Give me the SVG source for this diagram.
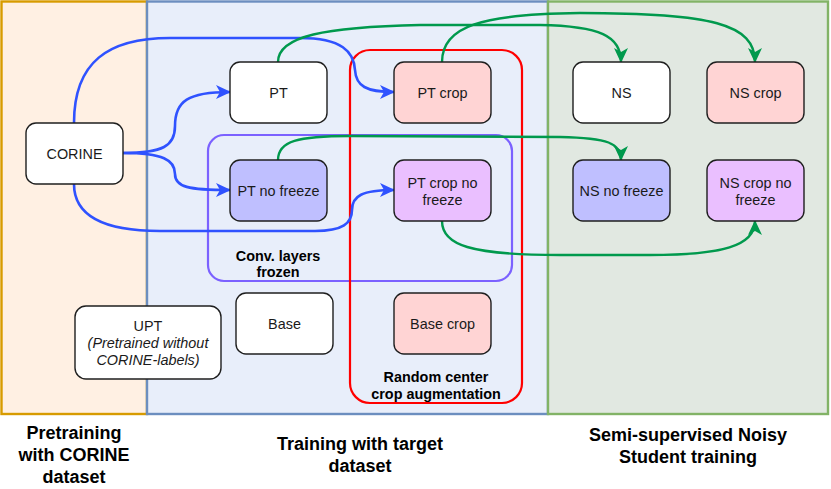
<svg xmlns="http://www.w3.org/2000/svg" width="831" height="489" viewBox="0 0 831 489">
<style>
.node rect{stroke:#1f1f1f;stroke-width:1.4}
.t{font-family:"Liberation Sans",Arial,sans-serif;font-size:14.4px;fill:#1a1a1a;text-anchor:middle}
.b{font-family:"Liberation Sans",Arial,sans-serif;font-weight:bold;fill:#000;text-anchor:middle}
.blue{fill:none;stroke:#2f52ff;stroke-width:2.6;marker-end:url(#ab)}
.green{fill:none;stroke:#00994d;stroke-width:2.4;marker-end:url(#ag)}
</style>
<defs>
<marker id="ab" markerUnits="userSpaceOnUse" markerWidth="16" markerHeight="14" refX="14" refY="7" orient="auto"><path d="M0,0 L15,7 L0,14 L4,7 Z" fill="#2f52ff"/></marker>
<marker id="ag" markerUnits="userSpaceOnUse" markerWidth="16" markerHeight="14" refX="14" refY="7" orient="auto"><path d="M0,0 L15,7 L0,14 L4,7 Z" fill="#00994d"/></marker>
</defs>
<g id="panels">
<rect x="1.5" y="1.5" width="145.5" height="412.5" fill="#fff0e3" stroke="#d79b00" stroke-width="2.4"/>
<rect x="147" y="1.5" width="401" height="412.5" fill="#e8eefa" stroke="#6c8ebf" stroke-width="2.4"/>
<rect x="548" y="1.5" width="280" height="412.5" fill="#e1e8e1" stroke="#82b366" stroke-width="2.4"/>
</g>
<g id="groups">
<rect x="208" y="135" width="304" height="146" rx="16" fill="none" stroke="#7b61ff" stroke-width="2.2"/>
<rect x="350" y="50" width="172" height="353" rx="20" fill="none" stroke="#ff0000" stroke-width="2.2"/>
<text class="b" font-size="14.4" x="278" y="261">Conv. layers</text>
<text class="b" font-size="14.4" x="278" y="277">frozen</text>
<text class="b" font-size="14.4" x="436" y="382">Random center</text>
<text class="b" font-size="14.4" x="436" y="399">crop augmentation</text>
</g>
<g id="connectors">
<path class="blue" d="M74,123 C74,62 108,38 170,38 L300,38 C342,38 354,52 355,70 C356,86 366,92 394,92"/>
<path class="blue" d="M123,153 C163,153 175,146 175,126 C175,101 188,92 230,92"/>
<path class="blue" d="M123,153 C163,153 175,160 175,174 C175,187 188,190 230,190"/>
<path class="blue" d="M74,184 C74,214 100,231 160,231 L315,231 C343,231 352,223 352,210 C352,196 362,190 394,190"/>
<path class="green" d="M278,62 C278,36 325,27 420,25 L540,25 C600,26 621,36 621,62"/>
<path class="green" d="M442,62 C442,26 482,14 580,13 C712,13 755,24 755,62"/>
<path class="green" d="M278,160 C278,141 298,136 350,136 L560,137 C608,138 621,143 621,160"/>
<path class="green" d="M442,221 C442,245 470,255 560,255 L650,255 C722,255 755,246 755,221"/>
</g>
<g id="corine" class="node"><rect x="26" y="123" width="97" height="61" rx="10" fill="#fff"/><text class="t" x="74.5" y="158.5">CORINE</text></g>
<g id="pt" class="node"><rect x="230" y="62" width="97" height="61" rx="10" fill="#fff"/><text class="t" x="278.5" y="97.5">PT</text></g>
<g id="ptcrop" class="node"><rect x="394" y="62" width="97" height="61" rx="10" fill="#ffd4d4"/><text class="t" x="442.5" y="97.5">PT crop</text></g>
<g id="ptnofreeze" class="node"><rect x="230" y="160" width="97" height="61" rx="10" fill="#bfbfff"/><text class="t" x="278.5" y="195.5">PT no freeze</text></g>
<g id="ptcropnofreeze" class="node"><rect x="394" y="160" width="97" height="61" rx="10" fill="#eabfff"/><text class="t" x="442.5" y="188">PT crop no</text><text class="t" x="442.5" y="204.5">freeze</text></g>
<g id="ns" class="node"><rect x="573" y="62" width="97" height="61" rx="10" fill="#fff"/><text class="t" x="621.5" y="97.5">NS</text></g>
<g id="nscrop" class="node"><rect x="707" y="62" width="97" height="61" rx="10" fill="#ffd4d4"/><text class="t" x="755.5" y="97.5">NS crop</text></g>
<g id="nsnofreeze" class="node"><rect x="573" y="160" width="97" height="61" rx="10" fill="#bfbfff"/><text class="t" x="621.5" y="195.5">NS no freeze</text></g>
<g id="nscropnofreeze" class="node"><rect x="707" y="160" width="97" height="61" rx="10" fill="#eabfff"/><text class="t" x="755.5" y="188">NS crop no</text><text class="t" x="755.5" y="204.5">freeze</text></g>
<g id="upt" class="node"><rect x="75" y="306" width="146" height="73" rx="11" fill="#fff"/><text class="t" x="148" y="331">UPT</text><text class="t" x="148" y="348" font-style="italic">(Pretrained without</text><text class="t" x="148" y="365" font-style="italic">CORINE-labels)</text></g>
<g id="base" class="node"><rect x="236" y="293" width="97" height="61" rx="10" fill="#fff"/><text class="t" x="284.5" y="328.5">Base</text></g>
<g id="basecrop" class="node"><rect x="394" y="293" width="97" height="61" rx="10" fill="#ffd4d4"/><text class="t" x="442.5" y="328.5">Base crop</text></g>
<g id="captions">
<text class="b" font-size="18" x="74" y="439">Pretraining</text>
<text class="b" font-size="18" x="74" y="461">with CORINE</text>
<text class="b" font-size="18" x="74" y="483">dataset</text>
<text class="b" font-size="18" x="360" y="450">Training with target</text>
<text class="b" font-size="18" x="360" y="472">dataset</text>
<text class="b" font-size="18" x="688" y="441">Semi-supervised Noisy</text>
<text class="b" font-size="18" x="688" y="463">Student training</text>
</g>
</svg>
